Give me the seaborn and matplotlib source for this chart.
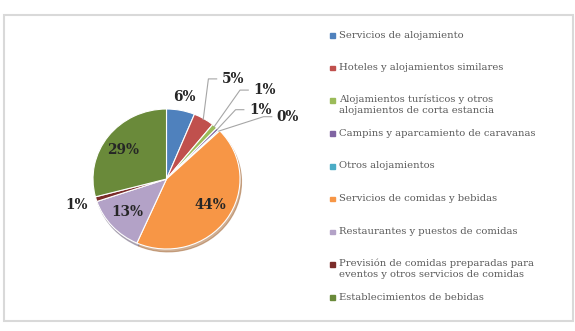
import numpy as np
import matplotlib
matplotlib.use("Agg")
import matplotlib.pyplot as plt
import seaborn as sns

# Datos (porcentajes)
categorias = [
    "Servicios de alojamiento",
    "Hoteles y alojamientos similares",
    "Alojamientos turísticos y otros\nalojamientos de corta estancia",
    "Campins y aparcamiento de caravanas",
    "Otros alojamientos",
    "Servicios de comidas y bebidas",
    "Restaurantes y puestos de comidas",
    "Previsión de comidas preparadas para\neventos y otros servicios de comidas",
    "Establecimientos de bebidas",
]
valores = [6.2, 4.6, 1.2, 0.6, 0.3, 43.7, 13.2, 1.1, 29.1]
etiquetas = ["6%", "5%", "1%", "1%", "0%", "44%", "13%", "1%", "29%"]
colores = ["#4F81BD", "#C0504D", "#9BBB59", "#8064A2", "#4BACC6",
           "#F79646", "#B3A2C7", "#7B2C2A", "#6A8A3A"]

# Posición de las etiquetas (coordenadas del eje, radio = 1)
pos_etiquetas = [(0.245, 1.17), (0.75, 1.43), (1.18, 1.27), (1.12, 0.99),
                 (1.50, 0.89), (0.60, -0.37), (-0.53, -0.47), (-1.22, -0.37),
                 (-0.585, 0.41)]
con_linea = [False, True, True, True, True, False, False, False, False]

sns.set_theme(style="white")
plt.rcParams['font.family'] = ['DejaVu Serif']
paleta = sns.color_palette(colores)

fig = plt.figure(figsize=(5.75, 3.31), dpi=100)
fig.patch.set_facecolor("white")

# Marco del gráfico
marco = plt.Rectangle((4 / 575, 10 / 331), 569 / 575, 306 / 331,
                      transform=fig.transFigure, fill=False,
                      edgecolor="#D9D9D9", linewidth=1.5)
fig.patches.append(marco)

# El círculo original sale un poco ensanchado en horizontal
ax = fig.add_axes([26.5 / 575, 12 / 331, 280 / 575, 280 / 331])
wedges, _ = ax.pie(valores, colors=paleta, startangle=90, counterclock=False,
                   radius=1.0, wedgeprops=dict(edgecolor="white", linewidth=0.8),
                   shadow={'ox': 0.015, 'oy': -0.03, 'shade': 0.35})
ax.set_xlim(-140 / 73.5, 140 / 73.5)
ax.set_ylim(-2, 2)
ax.set_aspect("auto")
ax.axis("off")

for w, txt, (lx, ly), linea in zip(wedges, etiquetas, pos_etiquetas, con_linea):
    if linea:
        ang = np.deg2rad((w.theta1 + w.theta2) / 2)
        x0, y0 = 0.98 * np.cos(ang), 0.98 * np.sin(ang)
        ax.plot([x0, lx - 0.18, lx - 0.06], [y0, ly, ly],
                color="#A6A6A6", lw=0.8, solid_capstyle="butt")
        ax.text(lx, ly, txt, ha="left", va="center", fontsize=9.8,
                fontweight="bold", color="#262626")
    else:
        ax.text(lx, ly, txt, ha="center", va="center", fontsize=9.8,
                fontweight="bold", color="#262626")

# Leyenda
y0 = 1 - 35 / 331
paso = 32.75 / 331
for i, (cat, col) in enumerate(zip(categorias, paleta)):
    y = y0 - i * paso
    fig.patches.append(plt.Rectangle((330 / 575, y - 2.5 / 331), 4.5 / 575, 4.5 / 331,
                                     transform=fig.transFigure, color=col))
    if "\n" in cat:
        fig.text(339 / 575, y + 6 / 331, cat, ha="left", va="top",
                 fontsize=7.2, color="#595959", linespacing=1.35,
                 transform=fig.transFigure)
    else:
        fig.text(339 / 575, y, cat, ha="left", va="center",
                 fontsize=7.2, color="#595959", transform=fig.transFigure)

fig.savefig("out.png", dpi=100, facecolor="white")
